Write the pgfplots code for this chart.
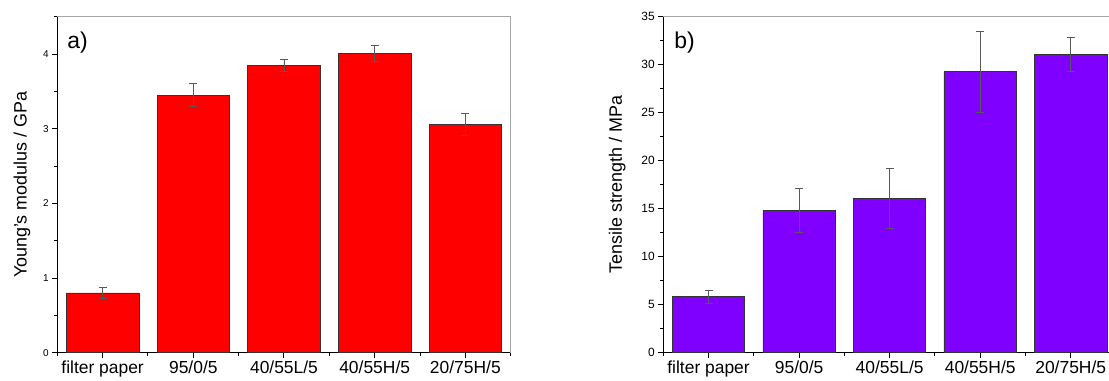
\documentclass[border=0pt]{standalone}
\usepackage{pgfplots}
\pgfplotsset{compat=1.18}
\usepackage{fontspec}
\setmainfont{Liberation Sans}
\definecolor{barred}{HTML}{FF0000}
\definecolor{barviolet}{HTML}{7F00FF}
\pgfplotsset{
  mybar/.style={
    scale only axis, anchor=south west,
    height=336bp,
    xmin=0.5, xmax=5.5, ymin=0,
    xtick={1,2,3,4,5},
    xticklabels={filter paper,95/0/5,40/55L/5,40/55H/5,20/75H/5},
    minor xtick={0.5,1.5,2.5,3.5,4.5,5.5},
    axis x line*=bottom, axis y line*=left,
    axis line style={line width=1.2bp, -},
    tick align=outside, major tick length=5bp, minor tick length=3bp,
    every tick/.style={black, line width=1bp},
    xticklabel style={font=\fontsize{17.5}{20}\selectfont},
    ylabel style={font=\fontsize{18}{21}\selectfont, anchor=center, rotate=0},
    /pgf/number format/assume math mode=true,
    ybar, bar width=0.8,
    clip=false,
  },
  myerr/.style={
    error bars/.cd, y dir=both, y explicit,
    error bar style={black!65, line width=0.9bp},
    error mark options={rotate=90, mark size=4bp, black!65, line width=0.9bp},
  },
}
\begin{document}
\begin{tikzpicture}
\begin{axis}[mybar,
  at={(57.3bp,28.3bp)}, width=453.4bp,
  ymax=4.5, ytick={0,1,2,3,4}, minor ytick={0.5,1.5,2.5,3.5,4.5},
  yticklabel style={font=\fontsize{10}{12}\selectfont},
  ylabel={Young's modulus / GPa},
  ylabel style={at={(rel axis cs:-0.078,0.5)}},
]
\addplot[fill=barred, draw=black!80, line width=0.8bp, myerr] coordinates {
  (1,0.80) +- (0,0.08)
  (2,3.45) +- (0,0.155)
  (3,3.85) +- (0,0.08)
  (4,4.01) +- (0,0.11)
  (5,3.06) +- (0,0.145)
};
\draw[black!35, line width=1bp] (rel axis cs:0,1) -- (rel axis cs:1,1) -- (rel axis cs:1,0);
\node[anchor=north west, inner sep=0pt, font=\fontsize{23}{27}\selectfont] at (rel axis cs:0.022,0.955) {a)};
\end{axis}
\begin{axis}[mybar,
  at={(663.3bp,28.3bp)}, width=452.7bp,
  ymax=35, ytick={0,5,...,35}, minor ytick={2.5,7.5,...,32.5},
  yticklabel style={font=\fontsize{12}{14}\selectfont},
  ylabel={Tensile strength / MPa},
  ylabel style={at={(rel axis cs:-0.102,0.5)}},
]
\addplot[fill=barviolet, draw=black!80, line width=0.8bp, myerr] coordinates {
  (1,5.83) +- (0,0.7)
  (2,14.78) +- (0,2.3)
  (3,16.08) +- (0,3.1)
  (4,29.27) +- (0,4.2)
  (5,31.05) +- (0,1.8)
};
\draw[black!35, line width=1bp] (rel axis cs:0,1) -- (rel axis cs:1,1) -- (rel axis cs:1,0);
\node[anchor=north west, inner sep=0pt, font=\fontsize{23}{27}\selectfont] at (rel axis cs:0.024,0.955) {b)};
\end{axis}
\pgfresetboundingbox
\path (0,0) rectangle (1109bp,381bp);
\end{tikzpicture}
\end{document}
